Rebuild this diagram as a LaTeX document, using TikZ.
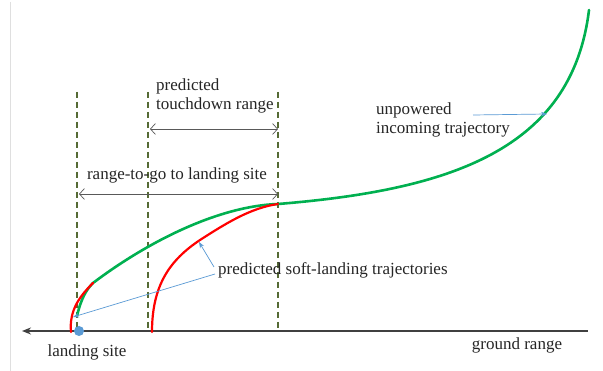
\documentclass[tikz,border=0pt]{standalone}
\usepackage{fontspec}
\setmainfont{Liberation Serif}
\usetikzlibrary{arrows.meta}
\definecolor{trajgreen}{HTML}{00B050}
\definecolor{trajred}{HTML}{FF0000}
\definecolor{olive}{HTML}{566B35}
\definecolor{annblue}{HTML}{5B9BD5}
\definecolor{axisgray}{HTML}{404040}
\definecolor{rangegray}{HTML}{595959}
\tikzset{
  lbl/.style={font=\fontsize{17}{19.5}\selectfont, text=black!85, inner sep=0pt},
  guide/.style={olive, line width=1.6pt, dash pattern=on 6pt off 4pt},
  rangearrow/.style={rangegray, line width=0.7pt, {Straight Barb[length=5pt,width=11pt]}-{Straight Barb[length=5pt,width=11pt]}},
  annarrow/.style={annblue, line width=0.7pt, -{Stealth[length=6pt,width=4.5pt]}},
  greentraj/.style={trajgreen, line width=2.6pt, line cap=round},
  redtraj/.style={trajred, line width=2.2pt, line cap=round},
}
\begin{document}
\begin{tikzpicture}[x=1pt,y=-1pt]
\useasboundingbox (0,0) rectangle (603,371);
\fill[white] (0,0) rectangle (603,371);
% left border
\draw[gray!25, line width=0.8pt] (10,2) -- (10,371);

% guides
\coordinate (g1t) at (77,92);  \coordinate (g1b) at (77,331);
\coordinate (g2t) at (148,92); \coordinate (g2b) at (148,331);
\coordinate (g3t) at (278,92); \coordinate (g3b) at (278,331);
\draw[guide] (g1t) -- (g1b);
\draw[guide] (g2t) -- (g2b);
\draw[guide] (g3t) -- (g3b);

% ground axis
\coordinate (axR) at (588,331);
\coordinate (axL) at (22,331);
\draw[axisgray, line width=1.5pt, {Stealth[length=9pt,width=7pt]}-] (axL) -- (axR);

% green trajectory
\coordinate (gs) at (77,316);
\coordinate (gk) at (93,283);
\coordinate (gm) at (278,204);
\coordinate (ge) at (589,10);
\draw[greentraj] (gs) .. controls (81,299) and (86,290) .. (gk)
  .. controls (150,240) and (220,206) .. (gm)
  .. controls (450,190) and (572,150) .. (ge);

% red trajectories
\coordinate (r1s) at (71,332);
\draw[redtraj] (r1s) .. controls (69,310) and (80,296) .. (gk);
\coordinate (r2s) at (152,332);
\coordinate (r2m) at (200,240);
\draw[redtraj] (r2s) .. controls (152,285) and (170,260) .. (r2m)
  .. controls (225,224) and (250,208) .. (gm);

% landing site dot
\fill[annblue] (79,331) circle (5pt);
\node[lbl] (ls) at (87,352) {landing site};
\node[lbl] (gr) at (517,345) {ground range};

% range arrows
\coordinate (tdL) at (150,129); \coordinate (tdR) at (278,129);
\draw[rangearrow] (tdL) -- (tdR);
\node[lbl, anchor=west, align=left] (tdlbl) at (156,96) {predicted\\touchdown range};

\coordinate (rgL) at (79,194); \coordinate (rgR) at (278,194);
\draw[rangearrow] (rgL) -- (rgR);
\node[lbl] (rglbl) at (177,175) {range-to-go to landing site};

% soft-landing label
\node[lbl, anchor=west] (sl) at (218,270) {predicted soft-landing trajectories};
\coordinate (slA) at (214,267);
\coordinate (slB) at (215,274);
\coordinate (r2pt) at (199,242);
\coordinate (r1pt) at (73,317);
\draw[annarrow] (slA) -- (r2pt);
\draw[annarrow] (slB) -- (r1pt);

% unpowered label
\node[lbl, anchor=west, align=left] (up) at (376,120) {unpowered\\incoming trajectory};
\coordinate (upA) at (473,115);
\coordinate (upB) at (547,114);
\draw[annarrow] (upA) -- (upB);
\end{tikzpicture}
\end{document}
